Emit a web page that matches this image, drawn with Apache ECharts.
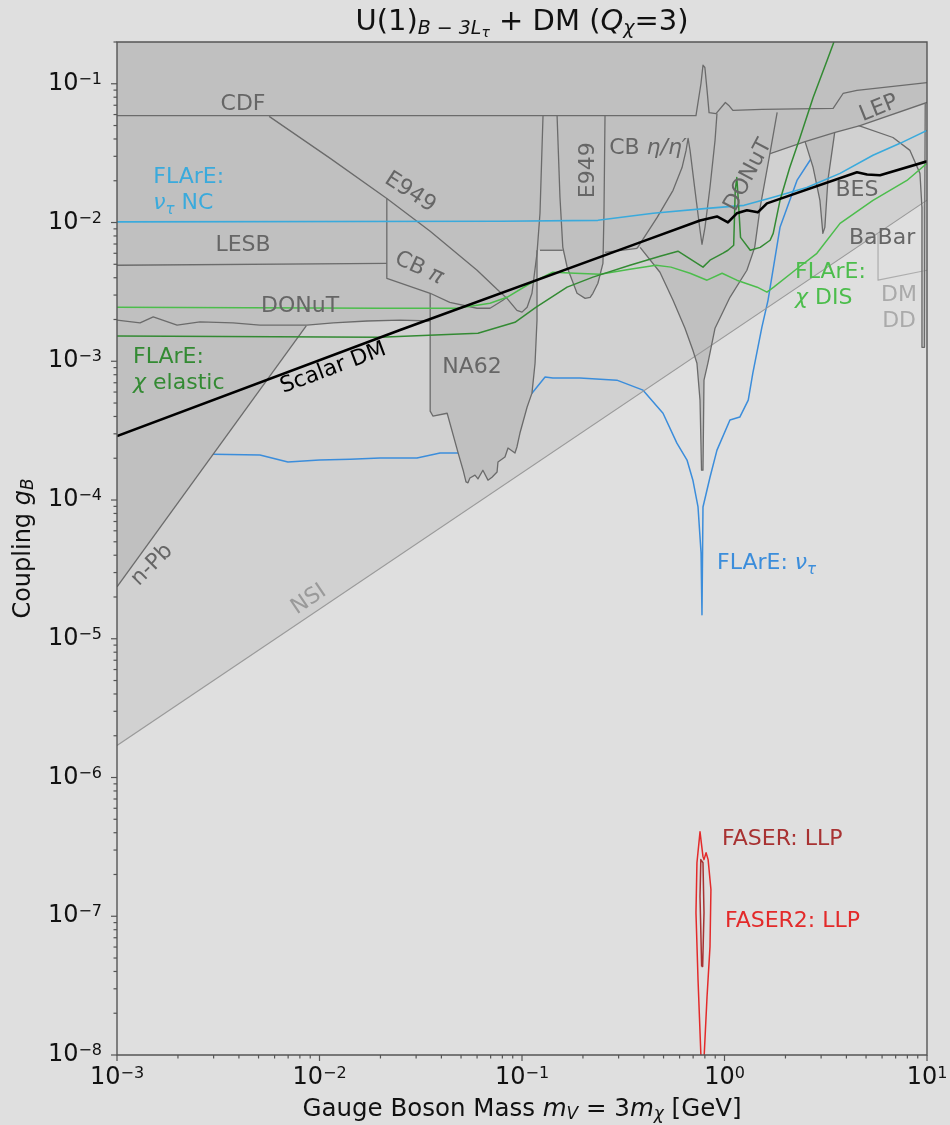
<!DOCTYPE html>
<html>
<head>
<meta charset="utf-8">
<title>U(1) B-3L_tau + DM</title>
<script src="https://cdn.jsdelivr.net/npm/echarts@6/dist/echarts.min.js"></script>
<style>
  html, body { margin: 0; padding: 0; background: #dfdfdf; }
  #chart { width: 950px; height: 1125px; }
</style>
</head>
<body>
<div id="chart"></div>
<script>
// Axis ranges: gauge boson mass m_V [GeV] (x) and coupling g_B (y)
const X_RANGE = [1e-3, 10];
const Y_RANGE = [1e-8, 0.2];
const X_DECADES = [1e-3, 1e-2, 1e-1, 1, 10];
const Y_DECADES = [1e-8, 1e-7, 1e-6, 1e-5, 1e-4, 1e-3, 1e-2, 1e-1];

// ---------- existing constraints, boundaries as [m_V, g_B] ----------
const cdf = [[1e-3, 0.059], [0.723, 0.059], [0.765, 0.10], [0.783, 0.136], [0.80, 0.131], [0.82, 0.09],
  [0.839, 0.062], [0.908, 0.061], [1.01, 0.0733], [1.05, 0.0698], [1.10, 0.0643], [1.53, 0.0653],
  [3.44, 0.0664], [3.85, 0.0851], [4.51, 0.0895], [10, 0.102]];
const e949Diag = [[5.64e-3, 0.0582], [1.13e-2, 0.029], [2.15e-2, 0.0149], [3.52e-2, 8.65e-3],
  [6.0e-2, 4.53e-3], [7.53e-2, 3.3e-3], [8.43e-2, 2.84e-3], [9.44e-2, 2.33e-3], [0.100, 2.26e-3],
  [0.106, 2.45e-3], [0.112, 3.09e-3], [0.1186, 6.0e-3], [0.1227, 0.01165], [0.127, 0.059]];
const lesb = [[1e-3, 4.92e-3], [2.15e-2, 5.08e-3]];
const cbPi = [[2.15e-2, 0.0149], [2.15e-2, 3.96e-3], [3.52e-2, 3.09e-3], [4.4e-2, 2.66e-3],
  [6.0e-2, 2.41e-3], [6.95e-2, 2.41e-3], [8.05e-2, 2.75e-3], [8.43e-2, 2.9e-3]];
const donutLow = [[1e-3, 1.98e-3], [1.3e-3, 1.89e-3], [1.51e-3, 2.09e-3], [1.98e-3, 1.82e-3],
  [2.57e-3, 1.92e-3], [3.74e-3, 1.89e-3], [5.08e-3, 1.82e-3], [8.67e-3, 1.82e-3], [1.17e-2, 1.89e-3],
  [1.72e-2, 1.95e-3], [2.5e-2, 1.98e-3], [3.52e-2, 1.95e-3]];
const nPb = [[1e-3, 2.37e-5], [8.6e-3, 1.8e-3]];
const na62 = [[3.52e-2, 3.09e-3], [3.52e-2, 4.37e-4], [3.63e-2, 4.03e-4], [4.27e-2, 4.22e-4],
  [4.84e-2, 2.18e-4], [5.12e-2, 1.64e-4], [5.29e-2, 1.35e-4], [5.41e-2, 1.33e-4], [5.53e-2, 1.44e-4],
  [5.86e-2, 1.51e-4], [6.06e-2, 1.42e-4], [6.41e-2, 1.64e-4], [6.79e-2, 1.39e-4], [7.11e-2, 1.46e-4],
  [7.53e-2, 1.59e-4], [7.61e-2, 1.88e-4], [8.24e-2, 2.04e-4], [8.53e-2, 2.37e-4], [9.23e-2, 2.18e-4],
  [9.44e-2, 2.41e-4], [9.77e-2, 3.04e-4], [0.106, 4.68e-4], [0.112, 5.89e-4], [0.116, 9.68e-4],
  [0.1186, 1.98e-3], [0.1186, 6.31e-3]];
const e949Strip = [[0.1227, 6.31e-3], [0.159, 6.31e-3]];
const e949U = [[0.149, 0.059], [0.154, 0.0152], [0.159, 6.65e-3], [0.167, 4.78e-3], [0.173, 4.17e-3],
  [0.187, 3.09e-3], [0.205, 2.84e-3], [0.217, 2.89e-3], [0.224, 3.09e-3], [0.237, 3.65e-3],
  [0.251, 5.08e-3], [0.254, 0.01165], [0.257, 0.059]];
const cbEtaFloor = [[0.257, 6.1e-3], [0.370, 6.51e-3]];
const cbEta = [[0.370, 6.51e-3], [0.465, 0.01089], [0.557, 0.01706], [0.617, 0.0249], [0.646, 0.0331],
  [0.661, 0.0404], [0.676, 0.0331], [0.715, 0.01706], [0.757, 8.79e-3], [0.774, 6.97e-3],
  [0.801, 9.23e-3], [0.848, 0.01795], [0.898, 0.0391], [0.918, 0.0611]];
const donutHigh = [[0.383, 6.62e-3], [0.480, 4.38e-3], [0.557, 2.75e-3], [0.638, 1.73e-3],
  [0.698, 1.2e-3], [0.731, 9.68e-4], [0.757, 5.25e-4], [0.770, 1.64e-4], [0.783, 1.64e-4],
  [0.792, 7.31e-4], [0.830, 9.86e-4], [0.898, 1.73e-3], [1.064, 2.89e-3], [1.29, 4.53e-3],
  [1.41, 6.62e-3], [1.50, 0.01285], [1.68, 0.032], [1.82, 0.0621]];
const lep = [[1.68, 0.0314], [2.50, 0.0383], [3.52, 0.0446], [4.67, 0.050], [10, 0.0733]];
const bes = [[2.50, 0.0383], [2.74, 0.0249], [2.96, 0.01445], [3.06, 8.35e-3], [3.13, 9.23e-3],
  [3.24, 0.0201], [3.50, 0.0445]];
const babar = [[4.6, 0.050], [6.79, 0.041], [8.24, 0.0331], [9.23, 0.0226], [9.44, 0.01285],
  [9.44, 1.26e-3], [9.72, 1.26e-3], [9.75, 0.0145], [9.8, 0.072]];
const upsilon = [[9.44, 0.0128], [9.44, 1.26e-3], [9.72, 1.26e-3], [9.75, 0.0145]];
const nsi = [[1e-3, 1.7e-6], [10, 1.45e-2]];
const dmdd = [[5.73, 8.3e-3], [5.73, 3.84e-3], [10, 4.53e-3]];

// ---------- projected sensitivities and relic target ----------
const flareNuNC = [[1e-3, 0.0101], [0.0778, 0.0102], [0.237, 0.01037], [0.444, 0.01165],
  [0.820, 0.01265], [1.25, 0.0133], [1.74, 0.0152], [2.55, 0.0179], [3.72, 0.0226], [5.41, 0.0305],
  [7.36, 0.0372], [10, 0.0461]];
const flareNuTau = [[2.98e-3, 2.14e-4], [5.08e-3, 2.11e-4], [6.98e-3, 1.88e-4], [1.0e-2, 1.94e-4],
  [1.42e-2, 1.97e-4], [1.99e-2, 2.01e-4], [3.03e-2, 2.01e-4], [3.94e-2, 2.18e-4], [4.94e-2, 2.18e-4],
  [0.112, 5.89e-4], [0.130, 7.69e-4], [0.142, 7.56e-4], [0.193, 7.56e-4], [0.294, 7.31e-4],
  [0.396, 6.19e-4], [0.497, 4.22e-4], [0.582, 2.57e-4], [0.653, 1.94e-4], [0.698, 1.39e-4],
  [0.740, 8.91e-5], [0.766, 4.16e-5], [0.774, 1.49e-5], [0.783, 8.91e-5], [0.848, 1.46e-4],
  [0.918, 2.29e-4], [1.064, 3.77e-4], [1.19, 3.96e-4], [1.31, 5.25e-4], [1.38, 8.2e-4],
  [1.53, 1.76e-3], [1.64, 2.75e-3], [1.88, 9.23e-3], [2.28, 0.0201], [2.70, 0.0294]];
const flareElastic = [[1e-3, 1.52e-3], [1.99e-2, 1.49e-3], [6.06e-2, 1.59e-3], [9.23e-2, 1.91e-3],
  [0.117, 2.45e-3], [0.167, 3.42e-3], [0.224, 4.04e-3], [0.341, 4.92e-3], [0.480, 5.71e-3],
  [0.589, 6.21e-3], [0.783, 4.77e-3], [0.848, 5.35e-3], [0.984, 6.01e-3], [1.04, 6.31e-3],
  [1.11, 6.86e-3], [1.13, 0.01706], [1.15, 0.0211], [1.17, 0.01445], [1.20, 7.81e-3],
  [1.34, 6.31e-3], [1.50, 6.62e-3], [1.68, 7.45e-3], [1.74, 8.35e-3], [1.88, 0.01445],
  [2.10, 0.0249], [2.36, 0.041], [2.74, 0.0796], [3.21, 0.147], [3.47, 0.2]];
const flareDIS = [[1e-3, 2.45e-3], [1.99e-2, 2.41e-3], [4.78e-2, 2.41e-3], [6.95e-2, 2.62e-3],
  [8.43e-2, 2.89e-3], [0.110, 3.65e-3], [0.142, 4.38e-3], [0.183, 4.31e-3], [0.243, 4.24e-3],
  [0.341, 4.6e-3], [0.459, 4.92e-3], [0.544, 4.77e-3], [0.676, 4.31e-3], [0.820, 3.84e-3],
  [0.973, 4.31e-3], [1.15, 3.84e-3], [1.45, 3.42e-3], [1.62, 3.15e-3], [1.75, 3.42e-3],
  [2.23, 4.53e-3], [2.86, 6.0e-3], [3.72, 9.86e-3], [5.41, 0.01445], [7.96, 0.0201], [10, 0.0267]];
const scalarDM = [[1e-3, 2.89e-4], [2.5e-2, 1.68e-3], [0.383, 7.19e-3], [0.757, 0.01035],
  [0.918, 0.01106], [1.04, 0.01002], [1.15, 0.01165], [1.29, 0.01225], [1.46, 0.01184],
  [1.62, 0.01374], [4.51, 0.023], [5.06, 0.0222], [5.86, 0.0219], [10, 0.0276]];
const faser = [[0.771, 4.35e-8], [0.757, 1.39e-7], [0.764, 2.56e-7], [0.783, 2.43e-7],
  [0.792, 1.06e-7], [0.780, 4.35e-8], [0.771, 4.35e-8]];
const faser2 = [[0.766, 9.3e-9], [0.740, 3.5e-8], [0.723, 1.06e-7], [0.731, 2.43e-7], [0.757, 4.06e-7],
  [0.783, 2.69e-7], [0.792, 2.56e-7], [0.811, 2.87e-7], [0.830, 2.56e-7], [0.857, 1.56e-7],
  [0.848, 6.04e-8], [0.820, 2.64e-8], [0.792, 9.3e-9]];

// ---------- styling ----------
const FONT = 'DejaVu Sans';
const BG = '#dfdfdf';
const AXIS_C = '#555555';
const EDGE_C = '#6b6b6b';
const DARK_FILL = '#c0c0c0';
const NSI_FILL = '#d1d1d1';
const LABEL_GRAY = '#666666';
const NC_BLUE = '#3aaadc';
const NU_BLUE = '#3b8ddb';
const GREEN_EL = '#338a33';
const GREEN_DIS = '#4cbd4c';
const FASER_C = '#a83232';
const FASER2_C = '#e32a2a';

// union of the dark excluded regions, traced along their lower envelope
const darkRegion = [].concat(
  [[X_RANGE[0], Y_RANGE[1]]],
  nPb,
  donutLow.filter(p => p[0] > nPb[1][0]),
  na62.slice(1),
  e949Strip.slice(1),
  e949U.slice(3, 11),
  cbEtaFloor,
  donutHigh.slice(0, 17),
  bes,
  lep.slice(3),
  [[X_RANGE[1], Y_RANGE[1]]]
);
const nsiRegion = nsi.concat([[X_RANGE[1], Y_RANGE[1]], [X_RANGE[0], Y_RANGE[1]]]);

// text annotations placed at data coordinates
const notes = [
  { text: '{n|CDF}', at: [4.19e-3, 0.071] },
  { text: '{n|E949}', at: [2.8e-2, 0.0165], rot: -33 },
  { text: '{n|LESB}', at: [4.19e-3, 6.86e-3] },
  { text: '{n|CB }{i|π}', at: [3.1e-2, 4.68e-3], rot: -25 },
  { text: '{n|DONuT}', at: [8.02e-3, 2.49e-3] },
  { text: '{n|NA62}', at: [5.66e-2, 9.06e-4] },
  { text: '{n|E949}', at: [0.212, 0.0238], rot: 90 },
  { text: '{n|CB }{i|η/η′}', at: [0.419, 0.0342] },
  { text: '{n|DONuT}', at: [1.31, 0.0219], rot: 62 },
  { text: '{n|LEP}', at: [5.79, 0.0664], rot: 22 },
  { text: '{n|BES}', at: [4.51, 0.0171] },
  { text: '{n|BaBar}', at: [6.0, 7.69e-3] },
  { text: '{n|DM}\n{n|DD}', at: [7.28, 2.41e-3], color: '#aaaaaa' },
  { text: '{n|n-Pb}', at: [1.49e-3, 3.4e-5], rot: 45 },
  { text: '{n|NSI}', at: [8.87e-3, 1.91e-5], rot: 34, color: '#9a9a9a' },
  { text: '{n|Scalar DM}', at: [1.17e-2, 8.91e-4], rot: 20.5, color: '#000000' },
  { text: '{n|FLArE:}\n{i|ν}{s|τ}{n| NC}', at: [1.51e-3, 0.0171], align: 'left', color: NC_BLUE },
  { text: '{n|FLArE:}\n{i|χ}{n| elastic}', at: [1.2e-3, 8.63e-4], align: 'left', color: GREEN_EL },
  { text: '{n|FLArE:}\n{i|χ}{n| DIS}', at: [2.23, 3.53e-3], align: 'left', color: GREEN_DIS },
  { text: '{n|FLArE: }{i|ν}{s|τ}', at: [0.918, 3.52e-5], align: 'left', color: NU_BLUE },
  { text: '{n|FASER: LLP}', at: [0.973, 3.56e-7], align: 'left', color: FASER_C },
  { text: '{n|FASER2: LLP}', at: [1.006, 9.16e-8], align: 'left', color: FASER2_C }
];

function noteRich(color) {
  return {
    n: { fill: color, fontSize: 22, fontFamily: FONT, lineHeight: 26 },
    i: { fill: color, fontSize: 22, fontFamily: FONT, fontStyle: 'italic', lineHeight: 26 },
    s: { fill: color, fontSize: 15, fontFamily: FONT, fontStyle: 'italic', lineHeight: 15, padding: [14, 0, 0, 0] }
  };
}

function anchor(z) {
  return { type: 'custom', coordinateSystem: 'cartesian2d', silent: true, animation: false, z: z, data: [[1, 1e-4]] };
}
function fillSeries(points, color, z) {
  return Object.assign(anchor(z), {
    clip: true,
    renderItem: (params, api) => ({
      type: 'polygon',
      shape: { points: points.map(p => api.coord(p)) },
      style: { fill: color, stroke: null }
    })
  });
}
function lineSeries(points, color, width, z) {
  return Object.assign(anchor(z), {
    clip: true,
    renderItem: (params, api) => ({
      type: 'polyline',
      shape: { points: points.map(p => api.coord(p)) },
      style: { fill: null, stroke: color, lineWidth: width, lineJoin: 'round', lineCap: 'butt' }
    })
  });
}

const edgeSets = [cdf, e949Diag, lesb, cbPi, donutLow, nPb, na62, e949Strip, e949U, cbEtaFloor, cbEta, donutHigh, lep, bes, babar];

const series = [
  fillSeries(nsiRegion, NSI_FILL, 1),
  lineSeries(flareNuTau, NU_BLUE, 1.5, 2),
  fillSeries(darkRegion, DARK_FILL, 3),
  fillSeries(upsilon, DARK_FILL, 3),
  lineSeries(nsi, '#9a9a9a', 1.2, 4),
  lineSeries(dmdd, '#adadad', 1.2, 4)
];
edgeSets.forEach(s => series.push(lineSeries(s, EDGE_C, 1.3, 5)));
series.push(
  lineSeries(flareNuNC, NC_BLUE, 1.6, 6),
  lineSeries(flareDIS, GREEN_DIS, 1.5, 6),
  lineSeries(flareElastic, GREEN_EL, 1.5, 6),
  lineSeries(scalarDM, '#000000', 2.6, 7),
  lineSeries(faser2, FASER2_C, 1.5, 7),
  lineSeries(faser, FASER_C, 1.5, 7)
);

// annotation texts
series.push(Object.assign(anchor(8), {
  clip: false,
  renderItem: (params, api) => ({
    type: 'group',
    children: notes.map(nt => {
      const p = api.coord(nt.at);
      const c = nt.color || LABEL_GRAY;
      return {
        type: 'text', x: p[0], y: p[1], rotation: (nt.rot || 0) * Math.PI / 180,
        style: { text: nt.text, rich: noteRich(c), fill: c, fontSize: 22, fontFamily: FONT,
          align: nt.align || 'center', verticalAlign: 'middle' }
      };
    })
  })
}));

// frame and log ticks
series.push(Object.assign(anchor(9), {
  clip: false,
  renderItem: (params, api) => {
    const tl = api.coord([X_RANGE[0], Y_RANGE[1]]);
    const br = api.coord([X_RANGE[1], Y_RANGE[0]]);
    const st = { stroke: AXIS_C, lineWidth: 1.2 };
    const kids = [{ type: 'rect', shape: { x: tl[0], y: tl[1], width: br[0] - tl[0], height: br[1] - tl[1] },
      style: { fill: null, stroke: AXIS_C, lineWidth: 1.4 } }];
    X_DECADES.forEach(d => {
      for (let k = 1; k <= 9; k++) {
        const v = d * k;
        if (v > X_RANGE[1] * 1.0001) break;
        const x = api.coord([v, Y_RANGE[0]])[0];
        kids.push({ type: 'line', shape: { x1: x, y1: br[1], x2: x, y2: br[1] + (k === 1 ? 6 : 3.5) }, style: st });
      }
    });
    Y_DECADES.forEach(d => {
      for (let k = 1; k <= 9; k++) {
        const v = d * k;
        if (v > Y_RANGE[1] * 1.0001) break;
        const y = api.coord([X_RANGE[0], v])[1];
        kids.push({ type: 'line', shape: { x1: tl[0], y1: y, x2: tl[0] - (k === 1 ? 6 : 3.5), y2: y }, style: st });
      }
    });
    return { type: 'group', children: kids };
  }
}));

const tickRich = {
  b: { fontSize: 24, fontFamily: FONT, color: '#111', lineHeight: 26 },
  e: { fontSize: 16, fontFamily: FONT, color: '#111', lineHeight: 16, padding: [0, 0, 8, 0] }
};
function powLabel(v) {
  const lg = Math.log10(v);
  const n = Math.round(lg);
  if (Math.abs(lg - n) > 1e-6) return '';
  return '{b|10}{e|' + (n < 0 ? '\u2212' + (-n) : n) + '}';
}
const nameRich = {
  n: { fontSize: 24.5, fontFamily: FONT, color: '#111', lineHeight: 26 },
  i: { fontSize: 24.5, fontFamily: FONT, color: '#111', fontStyle: 'italic', lineHeight: 26 },
  s: { fontSize: 17, fontFamily: FONT, color: '#111', fontStyle: 'italic', lineHeight: 17, padding: [10, 0, 0, 0] }
};

const chart = echarts.init(document.getElementById('chart'), null, { renderer: 'canvas' });
chart.setOption({
  backgroundColor: BG,
  animation: false,
  grid: { left: 117, right: 23, top: 42, bottom: 70, show: true, backgroundColor: BG, borderWidth: 0,
    containLabel: false, outerBoundsMode: 'none' },
  xAxis: {
    type: 'log', logBase: 10, min: X_RANGE[0], max: X_RANGE[1], splitNumber: 10,
    axisLine: { show: false }, axisTick: { show: false }, splitLine: { show: false }, minorTick: { show: false },
    axisLabel: { margin: 10, formatter: powLabel, rich: tickRich, showMinLabel: true, showMaxLabel: true, hideOverlap: false },
    name: '{n|Gauge Boson Mass }{i|m}{s|V}{n| = 3}{i|m}{s|χ}{n| [GeV]}',
    nameLocation: 'middle', nameGap: 42,
    nameTextStyle: { fontSize: 24.5, fontFamily: FONT, color: '#111', rich: nameRich }
  },
  yAxis: {
    type: 'log', logBase: 10, min: Y_RANGE[0], max: Y_RANGE[1], splitNumber: 10,
    axisLine: { show: false }, axisTick: { show: false }, splitLine: { show: false }, minorTick: { show: false },
    axisLabel: { margin: 15, formatter: powLabel, rich: tickRich, showMinLabel: true, showMaxLabel: true, hideOverlap: false },
    name: '{n|Coupling }{i|g}{s|B}',
    nameLocation: 'middle', nameGap: 80, nameRotate: 90,
    nameTextStyle: { fontSize: 24, fontFamily: FONT, color: '#111', rich: {
      n: { fontSize: 24, fontFamily: FONT, color: '#111', lineHeight: 26 },
      i: { fontSize: 24, fontFamily: FONT, color: '#111', fontStyle: 'italic', lineHeight: 26 },
      s: { fontSize: 17, fontFamily: FONT, color: '#111', fontStyle: 'italic', lineHeight: 17, padding: [10, 0, 0, 0] }
    } }
  },
  graphic: [{
    type: 'text', x: 117 + 810 / 2, y: 22.5, silent: true,
    style: {
      text: '{t|U(1)}{s|B − 3L}{ss|τ}{t| + DM (}{ti|Q}{s|χ}{t|=3)}',
      align: 'center', verticalAlign: 'middle',
      rich: {
        t: { fill: '#111', fontSize: 29, fontFamily: FONT, lineHeight: 34 },
        ti: { fill: '#111', fontSize: 29, fontFamily: FONT, fontStyle: 'italic', lineHeight: 34 },
        s: { fill: '#111', fontSize: 19, fontFamily: FONT, fontStyle: 'italic', lineHeight: 19, padding: [13, 0, 0, 0] },
        ss: { fill: '#111', fontSize: 14, fontFamily: FONT, fontStyle: 'italic', lineHeight: 14, padding: [22, 0, 0, 0] }
      }
    }
  }],
  series: series
});
</script>
</body>
</html>
